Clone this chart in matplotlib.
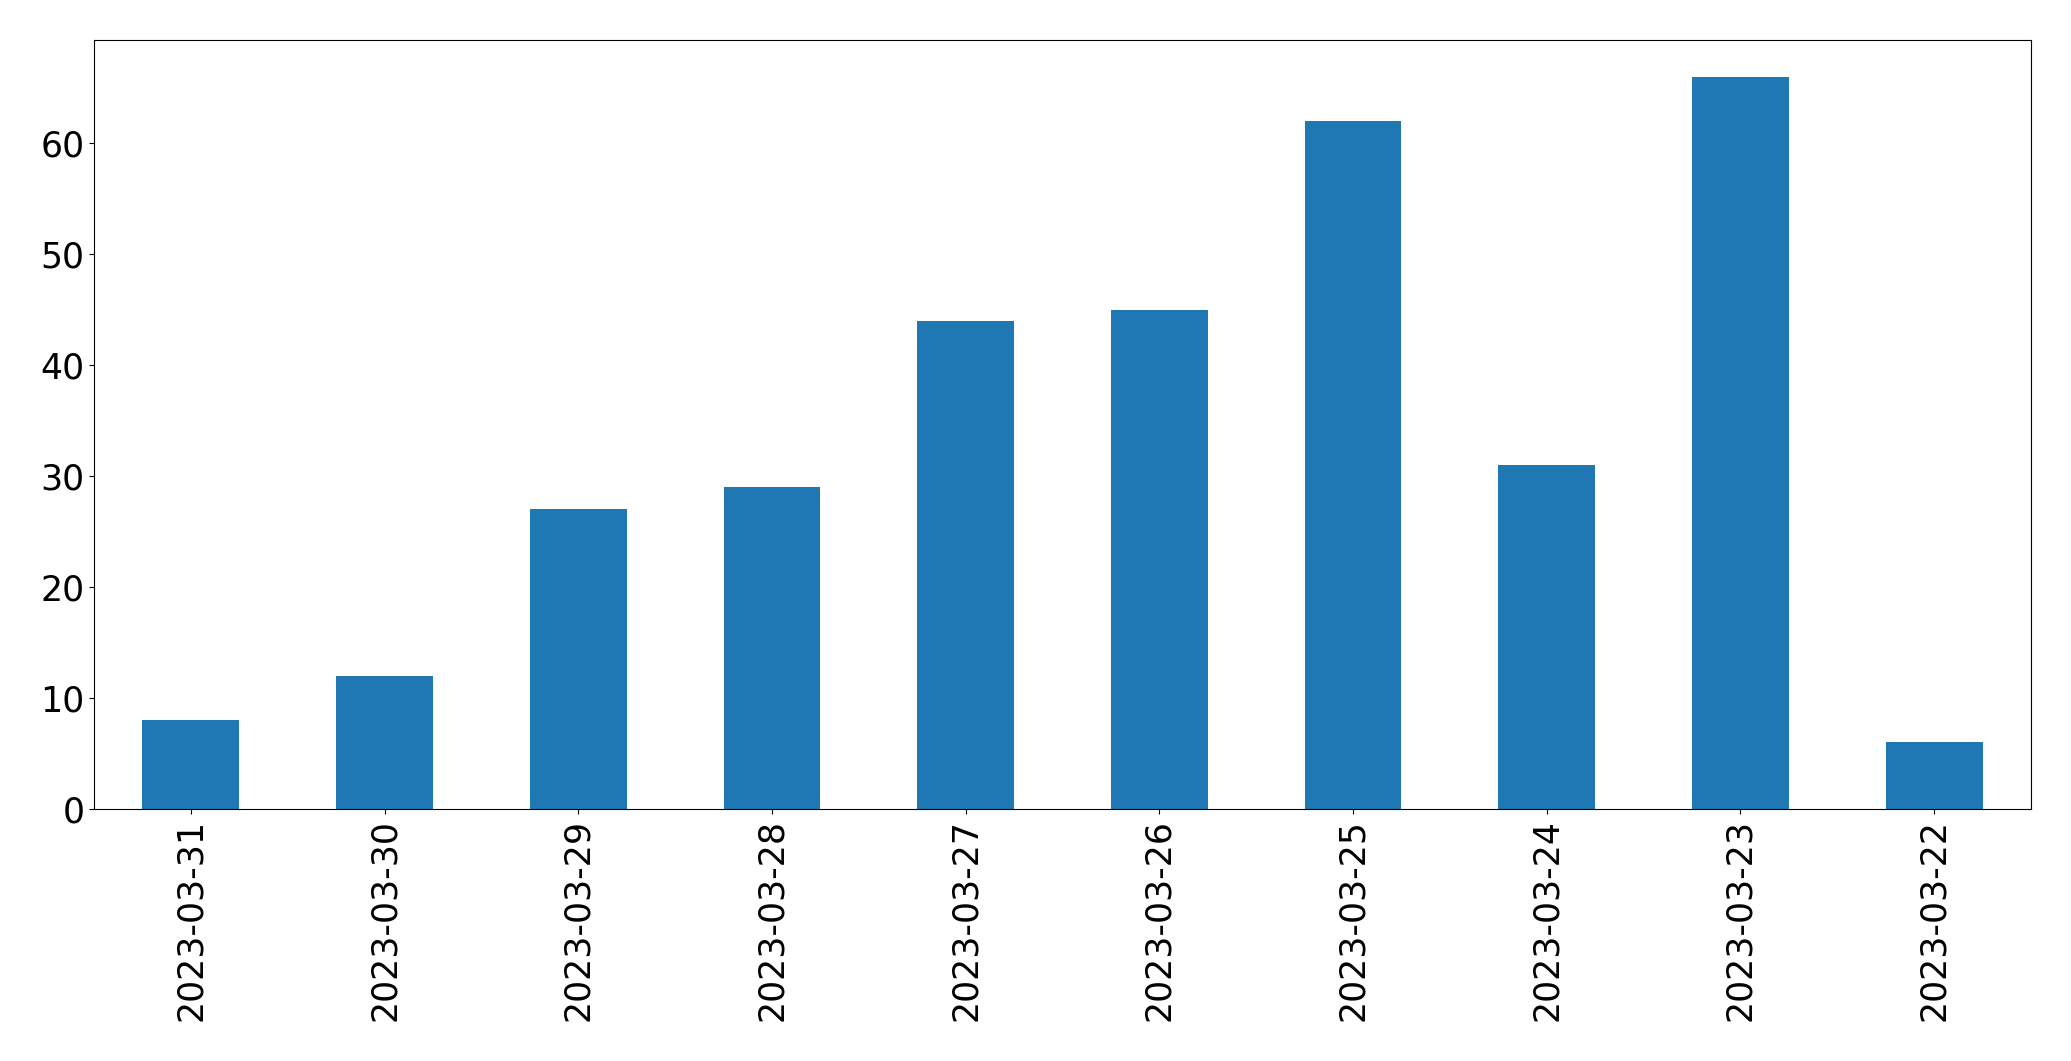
import numpy as np
import matplotlib.pyplot as plt

dates = ["2023-03-31", "2023-03-30", "2023-03-29", "2023-03-28", "2023-03-27",
         "2023-03-26", "2023-03-25", "2023-03-24", "2023-03-23", "2023-03-22"]
counts = [8, 12, 27, 29, 44, 45, 62, 31, 66, 6]

plt.rcParams.update({'font.size': 25})
fig = plt.figure(figsize=(20.71, 10.61), dpi=100)
ax = fig.add_axes([94/2071, 1-809/1061, (2031-94)/2071, (809-40)/1061])

x = np.arange(len(dates))
ax.bar(x, counts, width=0.5, color='#1f77b4')
ax.set_xticks(x)
ax.set_xticklabels(dates, rotation=90)
ax.set_xlim(-0.5, len(dates) - 0.5)
ax.set_ylim(0, 69.3)

fig.savefig("out.png", dpi=100)
